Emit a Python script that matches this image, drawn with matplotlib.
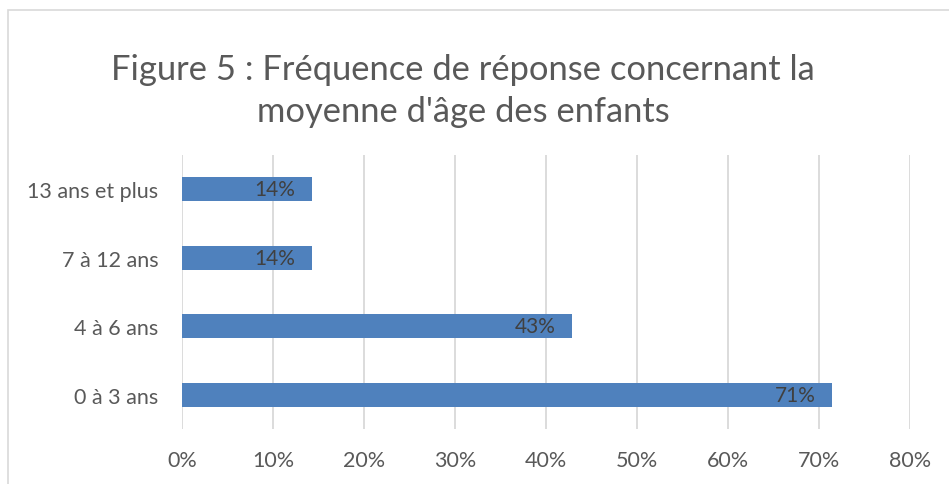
import matplotlib.pyplot as plt
from matplotlib.patches import Rectangle

categories = ['0 à 3 ans', '4 à 6 ans', '7 à 12 ans', '13 ans et plus']
values = [5 / 7, 3 / 7, 1 / 7, 1 / 7]
labels = ['71%', '43%', '14%', '14%']
xticks = [0, 0.1, 0.2, 0.3, 0.4, 0.5, 0.6, 0.7, 0.8]
xtick_labels = ['0%', '10%', '20%', '30%', '40%', '50%', '60%', '70%', '80%']

plt.rcParams['font.family'] = ['Lato', 'DejaVu Sans']

W, H = 949, 485
fig = plt.figure(figsize=(W / 100, H / 100), dpi=100)

# chart border (cropped at right and bottom)
fig.patches.append(Rectangle((8 / W, -0.1), 1.2, 1 - 11 / H + 0.1,
                             transform=fig.transFigure, fill=False,
                             edgecolor='#d9d9d9', linewidth=1.2))

ax = fig.add_axes([182 / W, 1 - 430 / H, (910 - 182) / W, (430 - 156) / H])

y = range(len(categories))
bars = ax.barh(y, values, height=0.35, color='#4f81bd', zorder=3)
for bar, lab in zip(bars, labels):
    ax.text(bar.get_width() - 0.018, bar.get_y() + bar.get_height() / 2, lab,
            ha='right', va='center', fontsize=15, color='#404040', zorder=4)

ax.set_xlim(0, 0.8)
ax.set_ylim(-0.5, len(categories) - 0.5)
ax.set_xticks(xticks)
ax.set_xticklabels(xtick_labels)
ax.set_yticks(list(y))
ax.set_yticklabels(categories)
ax.tick_params(axis='both', length=0, labelsize=15.5, colors='#595959')
ax.tick_params(axis='x', pad=15)
ax.tick_params(axis='y', pad=17)
ax.grid(axis='x', color='#d9d9d9', linewidth=1.3, zorder=0)
for spine in ax.spines.values():
    spine.set_visible(False)

fig.text(463 / W, 1 - 91 / H, "Figure 5 : Fréquence de réponse concernant la\nmoyenne d'âge des enfants",
         ha='center', va='center', fontsize=24.8, color='#595959', linespacing=1.38)

fig.savefig('out.png', dpi=100)
